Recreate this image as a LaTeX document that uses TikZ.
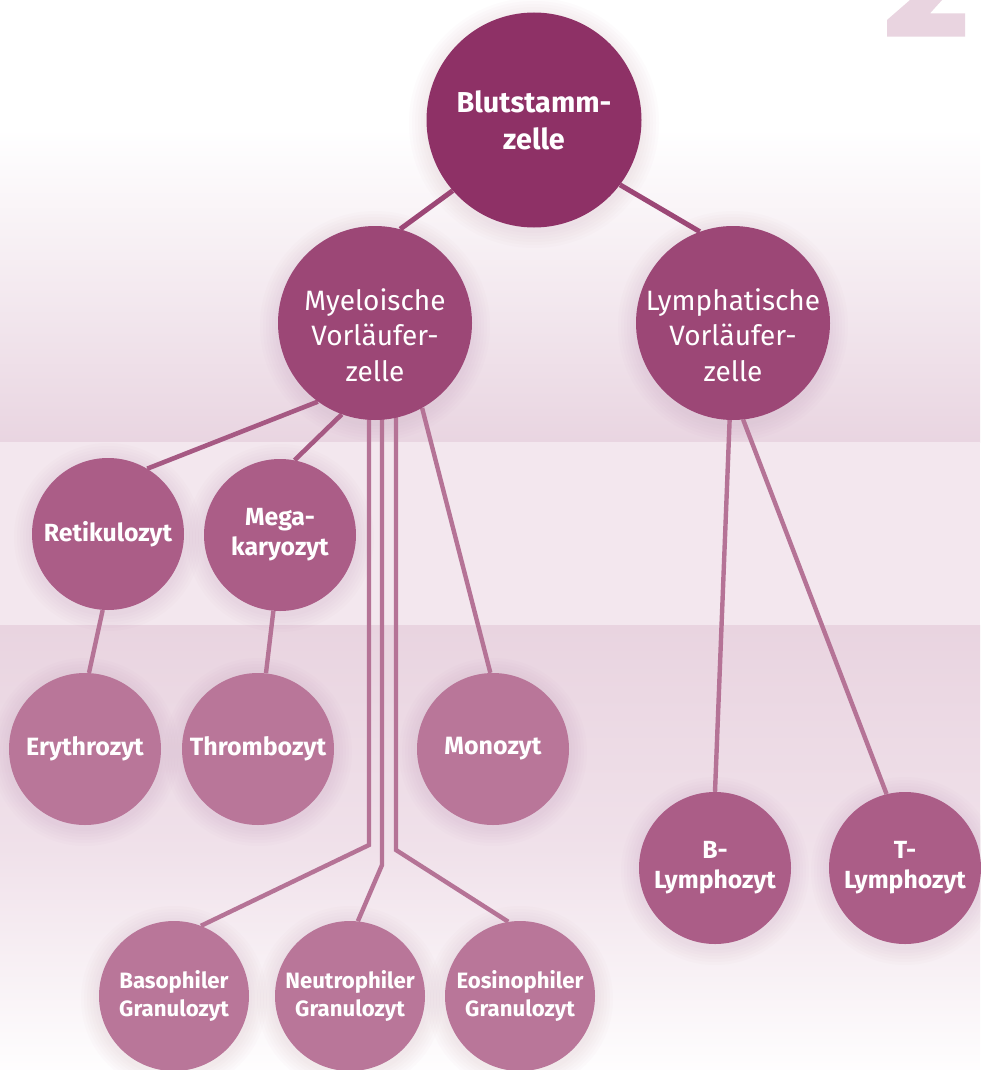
\documentclass[tikz,border=0pt]{standalone}
\usepackage{fontspec}
\setmainfont{Fira Sans}
\usetikzlibrary{backgrounds}
\definecolor{cA}{HTML}{8E3166}
\definecolor{cB}{HTML}{9C4776}
\definecolor{cC}{HTML}{AB5D87}
\definecolor{cD}{HTML}{B97699}
\definecolor{lA}{HTML}{9C4776}
\definecolor{lB}{HTML}{A65983}
\definecolor{lC}{HTML}{B57396}
\definecolor{bgTop}{HTML}{E9D5E1}
\definecolor{bgMid}{HTML}{F3E7EE}
\definecolor{bgLow}{HTML}{E9D4E0}
\definecolor{bgLowMid}{HTML}{F0E1EA}
\definecolor{glowcol}{HTML}{B07A98}
\begin{document}
\begin{tikzpicture}[x=1pt,y=-1pt,
  cell/.style={circle, inner sep=0pt, text=white, align=center},
  lvA/.style={cell, fill=cA, minimum size=215pt, font=\bfseries\fontsize{28.8}{37}\selectfont},
  lvB/.style={cell, fill=cB, minimum size=194pt},
  txtB/.style={inner sep=0pt, text=white, align=center, yshift=-12pt, font=\fontsize{28}{35.5}\selectfont},
  lvC/.style={cell, fill=cC, minimum size=152pt, font=\bfseries\fontsize{24.8}{30}\selectfont},
  lvD/.style={cell, fill=cD, minimum size=152pt, font=\bfseries\fontsize{25}{30}\selectfont},
  lvG/.style={cell, fill=cD, minimum size=150pt, font=\bfseries\fontsize{22.2}{28}\selectfont},
  linkA/.style={draw=lA, line width=5pt},
  linkB/.style={draw=lB, line width=4.6pt},
  linkC/.style={draw=lC, line width=4.4pt, line join=miter}
]
\useasboundingbox (0,0) rectangle (980,1070);

% nodes
\node[lvA] (blut) at (534,120) {Blutstamm-\\zelle};
\node[lvB, label={[txtB]center:Myeloische\\Vorläufer-\\zelle}] (myelo) at (375,323) {};
\node[lvB, label={[txtB]center:Lymphatische\\Vorläufer-\\zelle}] (lymph) at (733,323) {};
\node[lvC] (reti) at (108,534) {Retikulozyt};
\node[lvC] (mega) at (280,535) {Mega-\\karyozyt};
\node[lvD] (ery) at (85,749) {Erythrozyt};
\node[lvD] (thrombo) at (258,749) {Thrombozyt};
\node[lvD] (mono) at (493,749) {Monozyt};
\node[lvC] (blym) at (715,868) {B-\\Lymphozyt};
\node[lvC] (tlym) at (905,868) {T-\\Lymphozyt};
\node[lvG] (baso) at (174,996) {Basophiler\\Granulozyt};
\node[lvG] (neutro) at (350,996) {Neutrophiler\\Granulozyt};
\node[lvG] (eosino) at (520,996) {Eosinophiler\\Granulozyt};

\coordinate (gb) at (369,845);
\coordinate (gn) at (382,865);
\coordinate (ge) at (396,850);

\begin{scope}[on background layer]
  % background bands
  \fill[white] (0,0) rectangle (980,130);
  \shade[top color=white, bottom color=bgTop] (0,129) rectangle (980,442);
  \fill[bgMid] (0,442) rectangle (980,625);
  \shade[top color=bgLow, bottom color=bgLowMid] (0,625) rectangle (980,850);
  \shade[top color=bgLowMid, bottom color=bgLow!97!black!3] (0,849) rectangle (980,1070);
  % fragment of a large digit
  \fill[bgLow] (887,20) -- (910,0) -- (942,0) -- (930,13.3) -- (965,13.3)
     -- (965,36.7) -- (887,36.7) -- cycle;
  % halos
  \foreach \n/\r in {blut/107,myelo/97,lymph/97,reti/76,mega/76,ery/76,thrombo/76,mono/76,blym/76,tlym/76,baso/75,neutro/75,eosino/75}{
    \foreach \k in {3,6,...,18}{
      \fill[glowcol, opacity=0.022] ([yshift=-3pt]\n.center) circle[radius={\r pt+\k pt}];
    }
  }
  % connectors
  \draw[linkA] (blut.221) -- (myelo.75);
  \draw[linkA] (blut.323) -- (lymph.110);
  \draw[linkB] (myelo.234) -- (reti.59);
  \draw[linkB] (myelo.250) -- (mega.79);
  \draw[linkC] (reti.266) -- (ery.87);
  \draw[linkC] (mega.265) -- (thrombo.84);
  \draw[linkC] (myelo.299) -- (mono.92);
  \draw[linkC] (lymph.268) -- (blym.90);
  \draw[linkC] (lymph.276) -- (tlym.104);
  \draw[linkC] (gb |- myelo.center) -- (gb) -- (baso.69);
  \draw[linkC] (gn |- myelo.center) -- (gn) -- (neutro.84);
  \draw[linkC] (ge |- myelo.center) -- (ge) -- (eosino.99);
\end{scope}
\end{tikzpicture}
\end{document}
